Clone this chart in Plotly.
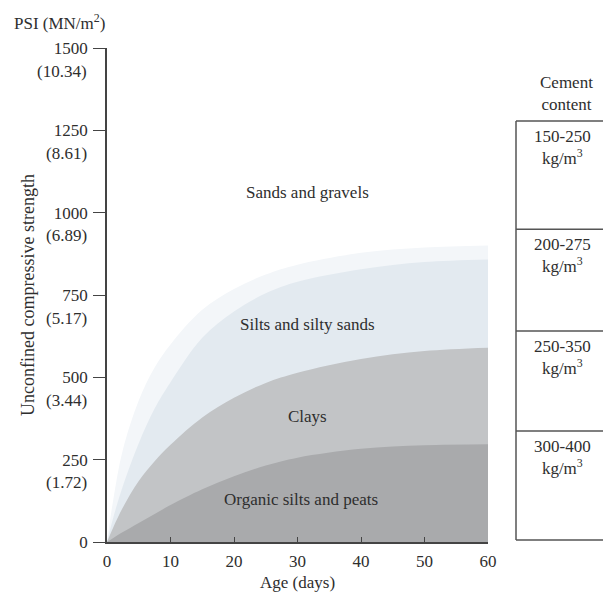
import plotly.graph_objects as go

# ---- data ----
days = [0, 1, 2.5, 5, 7.5, 10, 15, 20, 25, 30, 40, 50, 60]
fringe = [0, 130, 280, 430, 530, 600, 705, 768, 812, 842, 878, 894, 900]
silts = [0, 75, 170, 300, 405, 485, 620, 700, 755, 790, 828, 850, 858]
clays = [0, 45, 105, 185, 245, 295, 378, 438, 483, 514, 556, 580, 590]
organic = [0, 12, 30, 58, 85, 112, 160, 200, 232, 256, 283, 294, 297]

psi_ticks = [0, 250, 500, 750, 1000, 1250, 1500]
mn_labels = ["", "(1.72)", "(3.44)", "(5.17)", "(6.89)", "(8.61)", "(10.34)"]
x_ticks = [0, 10, 20, 30, 40, 50, 60]

region_names = ["Sands and gravels", "Silts and silty sands", "Clays", "Organic silts and peats"]
region_x = [31.5, 31.5, 31.5, 30.5]
region_y = [1060, 659, 380, 128]

cement_labels = ["150-250<br>kg/m<sup>3</sup>", "200-275<br>kg/m<sup>3</sup>",
                 "250-350<br>kg/m<sup>3</sup>", "300-400<br>kg/m<sup>3</sup>"]
box_edges = [1278, 950, 641, 337, 6]

FONT = "Liberation Serif"
TXT = "#2e2e2e"

fig = go.Figure()
for vals, col in [(fringe, "#f3f6f9"), (silts, "#e3eaf0"), (clays, "#c2c4c6"), (organic, "#a9aaac")]:
    fig.add_trace(go.Scatter(x=days, y=vals, mode="lines", fill="tozeroy",
                             fillcolor=col, line=dict(width=0, shape="spline", smoothing=1.0),
                             hoverinfo="skip", showlegend=False))

anns = []
for n, xx, yy in zip(region_names, region_x, region_y):
    anns.append(dict(x=xx, y=yy, xref="x", yref="y", text=n, showarrow=False,
                     font=dict(family=FONT, size=17, color=TXT)))

for v, lab in zip(psi_ticks, mn_labels):
    if lab:
        anns.append(dict(x=-0.046, y=v, xref="paper", yref="y", text=lab, showarrow=False,
                         xanchor="right", yanchor="middle", yshift=-23,
                         font=dict(family=FONT, size=17, color=TXT)))

anns.append(dict(x=(12 - 107) / 381, y=(542 - 22) / 494, xref="paper", yref="paper",
                 text="PSI (MN/m<sup>2</sup>)", showarrow=False, xanchor="left", yanchor="middle",
                 font=dict(family=FONT, size=17, color=TXT)))
anns.append(dict(x=(28 - 107) / 381, y=0.5, xref="paper", yref="paper",
                 text="Unconfined compressive strength", showarrow=False, textangle=-90,
                 xanchor="center", yanchor="middle", font=dict(family=FONT, size=18, color=TXT)))
anns.append(dict(x=0.5, y=(542 - 582) / 494, xref="paper", yref="paper",
                 text="Age (days)", showarrow=False, xanchor="center", yanchor="middle",
                 font=dict(family=FONT, size=17, color=TXT)))
anns.append(dict(x=(566 - 107) / 381, y=(542 - 93) / 494, xref="paper", yref="paper",
                 text="Cement<br>content", showarrow=False, xanchor="center", yanchor="middle",
                 font=dict(family=FONT, size=17, color=TXT)))

shapes = []
bx0 = (516 - 107) / 381
bx1 = (640 - 107) / 381
shapes.append(dict(type="line", xref="paper", yref="y", x0=bx0, x1=bx0,
                   y0=box_edges[0], y1=box_edges[-1], line=dict(color="#555", width=1.5)))
for e in box_edges:
    shapes.append(dict(type="line", xref="paper", yref="y", x0=bx0, x1=bx1,
                       y0=e, y1=e, line=dict(color="#555", width=1.5)))
for i, lab in enumerate(cement_labels):
    anns.append(dict(x=(562 - 107) / 381, y=box_edges[i], xref="paper", yref="y", text=lab,
                     showarrow=False, xanchor="center", yanchor="top", yshift=-4,
                     font=dict(family=FONT, size=17, color=TXT)))

fig.update_layout(
    width=603, height=592,
    margin=dict(l=107, r=115, t=48, b=50, autoexpand=False),
    paper_bgcolor="white", plot_bgcolor="white",
    annotations=anns, shapes=shapes,
    font=dict(family=FONT, size=17, color=TXT),
    xaxis=dict(range=[0, 60], tickvals=x_ticks, ticks="inside", ticklen=5, tickwidth=1.2,
               tickcolor="#444", showline=True, linecolor="#444", linewidth=1.5,
               showgrid=False, zeroline=False, ticklabelstandoff=3, automargin=False,
               tickfont=dict(family=FONT, size=17, color=TXT)),
    yaxis=dict(range=[0, 1500], tickvals=psi_ticks, ticks="outside", ticklen=12, tickwidth=1.2,
               tickcolor="#444", showline=True, linecolor="#444", linewidth=1.5,
               showgrid=False, zeroline=False, ticklabelstandoff=2, automargin=False,
               tickfont=dict(family=FONT, size=17, color=TXT)),
)

fig.write_html("out.html", config={"displayModeBar": False},
               post_script="document.body.style.margin='0';")
